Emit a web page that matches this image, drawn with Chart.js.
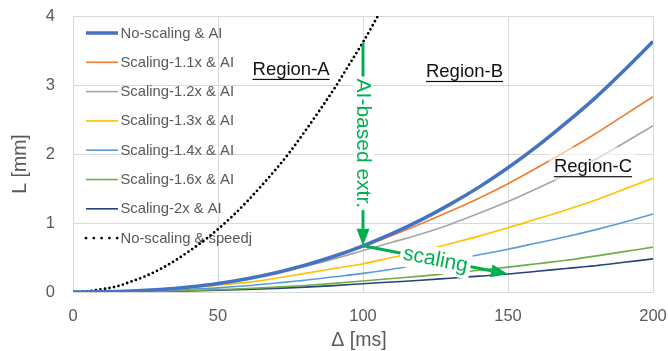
<!DOCTYPE html>
<html><head><meta charset="utf-8">
<script src="https://cdn.jsdelivr.net/npm/chart.js@4.4.1/dist/chart.umd.min.js"></script>
<style>html,body{margin:0;padding:0;background:#fff}</style>
</head><body>
<canvas id="c" width="668" height="351"></canvas>
<script>
// ---- data ----
const deltaMs = [0,10,20,30,40,50,60,70,80,90,100,110,120,130,140,150,160,170,180,190,200];
const noScalingAI = [0,0.003,0.013,0.035,0.072,0.123,0.193,0.281,0.389,0.518,0.67,0.845,1.045,1.27,1.52,1.80,2.11,2.45,2.81,3.21,3.63];
const scaling11AI = [0,0.003,0.013,0.035,0.07,0.12,0.19,0.275,0.38,0.51,0.655,0.82,0.99,1.17,1.36,1.57,1.80,2.04,2.29,2.56,2.83];
const scaling12AI = [0,0.003,0.012,0.033,0.066,0.115,0.18,0.26,0.37,0.48,0.60,0.72,0.84,0.98,1.14,1.31,1.50,1.70,1.92,2.16,2.41];
const scaling13AI = [0,0.003,0.012,0.03,0.06,0.10,0.14,0.20,0.27,0.34,0.41,0.50,0.59,0.70,0.81,0.93,1.06,1.19,1.33,1.49,1.65];
const scaling14AI = [0,0.002,0.008,0.02,0.04,0.06,0.09,0.13,0.17,0.22,0.27,0.33,0.40,0.47,0.54,0.62,0.71,0.80,0.90,1.01,1.13];
const scaling16AI = [0,0.001,0.005,0.012,0.022,0.035,0.05,0.07,0.095,0.125,0.16,0.195,0.23,0.27,0.315,0.36,0.41,0.46,0.52,0.585,0.65];
const scaling2AI  = [0,0.001,0.004,0.009,0.016,0.025,0.037,0.052,0.07,0.093,0.12,0.145,0.17,0.20,0.23,0.26,0.30,0.34,0.38,0.43,0.48];
const speedjDelta = [0,5,10,15,20,25,30,35,40,45,50,55,60,65,70,75,80,85,90,95,100,105];
const noScalingSpeedj = [0,0.01,0.04,0.08,0.15,0.23,0.33,0.45,0.59,0.74,0.91,1.10,1.31,1.54,1.78,2.04,2.33,2.63,2.94,3.28,3.62,3.99];
const seriesNames = ['No-scaling & AI','Scaling-1.1x & AI','Scaling-1.2x & AI','Scaling-1.3x & AI','Scaling-1.4x & AI','Scaling-1.6x & AI','Scaling-2x & AI','No-scaling & speedj'];
const xTicks = [0,50,100,150,200];
const yTicks = [0,1,2,3,4];
const xTitle = 'Δ [ms]';
const yTitle = 'L [mm]';
const regionLabels = [{t:'Region-A',x:75.2,y:3.22},{t:'Region-B',x:135,y:3.19},{t:'Region-C',x:179.3,y:1.81}];

const FONT = '"Liberation Sans", Arial, sans-serif';
const GREEN = '#00B050';
const colors = ['#4472C4','#ED7D31','#A5A5A5','#FFC000','#5B9BD5','#70AD47','#264478','#000000'];
const widths = [3.5,1.6,1.6,1.6,1.6,1.6,1.6,2.8];
const aiSeries = [noScalingAI,scaling11AI,scaling12AI,scaling13AI,scaling14AI,scaling16AI,scaling2AI];

const datasets = aiSeries.map((arr,i)=>({
  label: seriesNames[i],
  data: deltaMs.map((d,k)=>({x:d,y:arr[k]})),
  borderColor: colors[i], backgroundColor: colors[i],
  borderWidth: widths[i], pointRadius: 0, tension: 0.4, cubicInterpolationMode:'monotone', fill:false
}));
datasets.push({
  label: seriesNames[7],
  data: speedjDelta.map((d,k)=>({x:d,y:noScalingSpeedj[k]})),
  borderColor: colors[7], backgroundColor: colors[7], borderWidth: widths[7],
  borderDash:[0,4.6], borderCapStyle:'round', pointRadius:0, tension:0.4, cubicInterpolationMode:'monotone', fill:false,
  legendDash:[0,7.8]
});

function arrow(ctx, x1,y1,x2,y2){
  const a = Math.atan2(y2-y1,x2-x1), L=17, W=6.5;
  const bx = x2 - L*Math.cos(a), by = y2 - L*Math.sin(a);
  ctx.beginPath(); ctx.moveTo(x1,y1); ctx.lineTo(bx,by); ctx.stroke();
  ctx.beginPath(); ctx.moveTo(x2,y2);
  ctx.lineTo(bx + W*Math.sin(a), by - W*Math.cos(a));
  ctx.lineTo(bx - W*Math.sin(a), by + W*Math.cos(a));
  ctx.closePath(); ctx.fill();
}

const overlay = {
  id:'overlay',
  beforeDatasetsDraw(chart){
    const ctx = chart.ctx, ca = chart.chartArea;
    ctx.save();
    chart.data.datasets.forEach((ds,i)=>{
      const yy = ca.top + 17 + i*29.3;
      ctx.beginPath();
      ctx.strokeStyle = ds.borderColor; ctx.lineWidth = ds.borderWidth;
      ctx.setLineDash(ds.legendDash||[]); ctx.lineCap = ds.borderCapStyle||'butt';
      ctx.moveTo(ca.left+13, yy); ctx.lineTo(ca.left+45, yy); ctx.stroke();
      ctx.setLineDash([]);
      ctx.fillStyle = '#595959'; ctx.font = '14.8px '+FONT; ctx.textBaseline='middle'; ctx.textAlign='left';
      ctx.fillText(ds.label, ca.left+47.5, yy+0.5);
    });
    ctx.restore();
  },
  afterDatasetsDraw(chart){
    const ctx = chart.ctx, xs = chart.scales.x, ys = chart.scales.y;
    ctx.save();
    // Region labels
    ctx.font = '18.5px '+FONT; ctx.textAlign='center'; ctx.textBaseline='middle';
    regionLabels.forEach((r,i)=>{
      const px = xs.getPixelForValue(r.x), py = ys.getPixelForValue(r.y);
      const w = ctx.measureText(r.t).width;
      if(i===2){ ctx.fillStyle='rgba(255,255,255,0.6)'; ctx.fillRect(px-w/2-5, py-20, w+10, 33); }
      ctx.fillStyle='#111'; ctx.fillText(r.t, px, py);
      ctx.fillRect(px-w/2, py+9, w, 1.2);
    });
    // Arrows
    ctx.strokeStyle = GREEN; ctx.fillStyle = GREEN; ctx.lineWidth = 3;
    const ax = xs.getPixelForValue(100), ay1 = ys.getPixelForValue(3.61), ay2 = ys.getPixelForValue(noScalingAI[10]);
    arrow(ctx, ax, ay1, ax, ay2);
    const bx = xs.getPixelForValue(150), by = ys.getPixelForValue(scaling2AI[15]);
    arrow(ctx, ax, ay2, bx, by);
    // vertical text
    ctx.font = '21px '+FONT;
    let t = 'AI-based extr.'; let w = ctx.measureText(t).width;
    ctx.save(); ctx.translate(ax, (ay1+ay2)/2 - 1); ctx.rotate(Math.PI/2);
    ctx.fillStyle='#fff'; ctx.fillRect(-w/2-2,-11,w+4,20);
    ctx.fillStyle=GREEN; ctx.textAlign='center'; ctx.textBaseline='middle'; ctx.fillText(t,0,0.5);
    ctx.restore();
    // scaling text
    t='scaling'; w = ctx.measureText(t).width;
    const ang = Math.atan2(by-ay2, bx-ax);
    ctx.save(); ctx.translate(ax + (bx-ax)*0.5, ay2 + (by-ay2)*0.5); ctx.rotate(ang);
    ctx.fillStyle='#fff'; ctx.fillRect(-w/2-3,-13,w+6,26);
    ctx.fillStyle=GREEN; ctx.textAlign='center'; ctx.textBaseline='middle'; ctx.fillText(t,0,0);
    ctx.restore();
    // axis titles
    ctx.fillStyle='#595959'; ctx.font='19.5px '+FONT; ctx.textAlign='center'; ctx.textBaseline='middle';
    ctx.fillText(xTitle, xs.getPixelForValue(100)-4, 341);
    ctx.save(); ctx.translate(21, ys.getPixelForValue(2)+10); ctx.rotate(-Math.PI/2); ctx.fillText(yTitle,0,0); ctx.restore();
    ctx.restore();
  }
};

new Chart(document.getElementById('c'), {
  type:'line',
  data:{datasets},
  options:{
    responsive:false, animation:false, devicePixelRatio:1,
    layout:{padding:{left:0,right:0,top:16,bottom:0}},
    plugins:{legend:{display:false}, tooltip:{enabled:false}},
    scales:{
      x:{type:'linear', min:0, max:200,
        afterBuildTicks(s){ s.ticks = xTicks.map(v=>({value:v})); },
        afterFit(s){ s.height = 59; s.paddingRight = 15; s.paddingLeft = 0; },
        grid:{color:'#D9D9D9', drawTicks:false}, border:{color:'#D9D9D9'},
        ticks:{color:'#595959', font:{family:FONT,size:16.5}, padding:15, maxRotation:0}},
      y:{type:'linear', min:0, max:4,
        afterBuildTicks(s){ s.ticks = yTicks.map(v=>({value:v})); },
        afterFit(s){ s.width = 73; s.paddingTop = 0; s.paddingBottom = 0; },
        grid:{color:'#D9D9D9', drawTicks:false}, border:{color:'#D9D9D9'},
        ticks:{color:'#595959', font:{family:FONT,size:16.5}, padding:18}}
    }
  },
  plugins:[overlay]
});
</script>
</body></html>
